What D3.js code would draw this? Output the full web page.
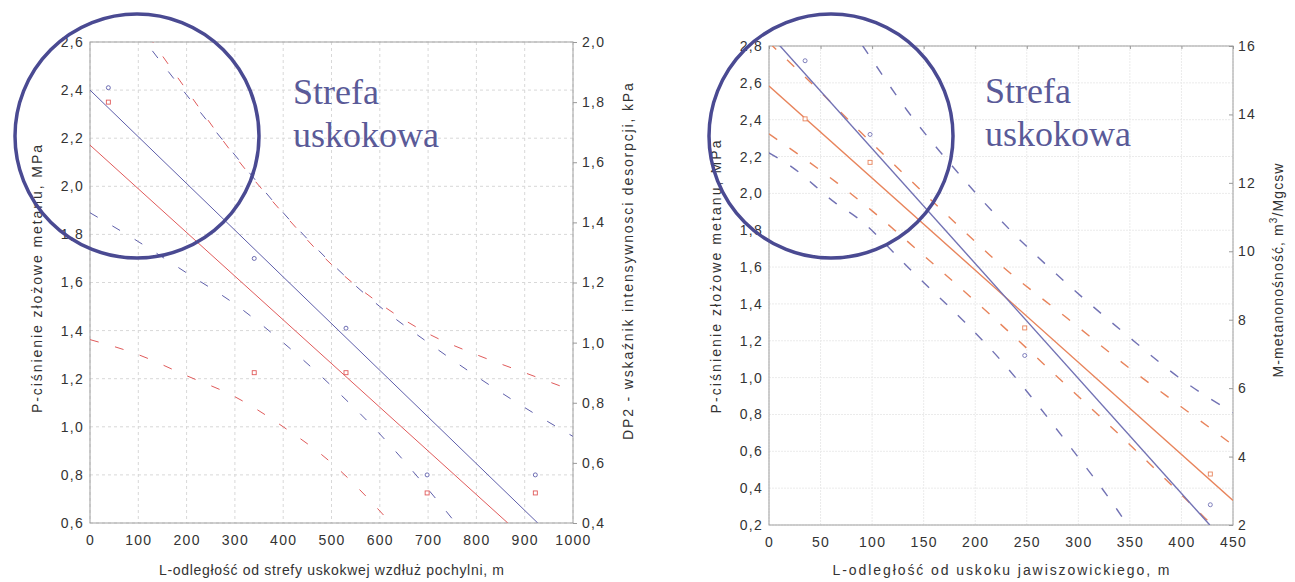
<!DOCTYPE html>
<html>
<head>
<meta charset="utf-8">
<script src="https://cdn.jsdelivr.net/npm/d3@7"></script>
<style>
body { margin: 0; background: #fff; }
text { font-family: "Liberation Sans", Arial, sans-serif; fill: #333; }
</style>
</head>
<body>
<svg id="chart" width="1295" height="582"></svg>
<script>
// ---- left panel data (distance along the incline, m)
const distTicksL = [0, 100, 200, 300, 400, 500, 600, 700, 800, 900, 1000];
const pTicksL = [0.6, 0.8, 1.0, 1.2, 1.4, 1.6, 1.8, 2.0, 2.2, 2.4, 2.6];
const dpTicksL = [0.4, 0.6, 0.8, 1.0, 1.2, 1.4, 1.6, 1.8, 2.0];
const distL = [38, 340, 530, 698, 922];
const pressureL = [2.41, 1.70, 1.41, 0.80, 0.80];
const dp2L = [1.80, 0.90, 0.90, 0.50, 0.50];
const pFitL = [[0, 2.40], [927, 0.60]];
const dpFitL = [[0, 1.657], [865, 0.40]];
const bandDistL = [0, 100, 200, 300, 400, 500, 600, 700, 800, 900, 1000];
const pUpperL = [2.91, 2.64, 2.38, 2.13, 1.89, 1.68, 1.50, 1.35, 1.21, 1.08, 0.96];
const pLowerL = [1.89, 1.77, 1.64, 1.51, 1.35, 1.17, 0.97, 0.74, 0.49, 0.22, -0.04];
const dpUpperL = [2.31, 2.07, 1.84, 1.62, 1.43, 1.26, 1.13, 1.03, 0.96, 0.90, 0.84];
const dpLowerL = [1.01, 0.96, 0.89, 0.82, 0.72, 0.60, 0.44, 0.25, 0.03, -0.20, -0.43];

// ---- right panel data (distance from the Jawiszowice fault, m)
const distTicksR = [0, 50, 100, 150, 200, 250, 300, 350, 400, 450];
const pTicksR = [0.2, 0.4, 0.6, 0.8, 1.0, 1.2, 1.4, 1.6, 1.8, 2.0, 2.2, 2.4, 2.6, 2.8];
const mTicksR = [2, 4, 6, 8, 10, 12, 14, 16];
const distR = [35, 98, 248, 428];
const pressureR = [2.72, 2.32, 1.12, 0.31];
const methaneR = [13.87, 12.6, 7.76, 3.49];
const pFitR = [[0, 2.867], [427.5, 0.20]];
const mFitR = [[0, 14.83], [450, 2.72]];
const pUpperR = [[50, 3.14], [91, 2.80], [134, 2.45], [182, 2.12], [234, 1.80], [289, 1.51], [345, 1.24], [405, 0.97], [450, 0.81]];
const pLowerR = [[0, 2.22], [23, 2.14], [64, 1.95], [85, 1.87], [140, 1.57], [190, 1.30], [227, 1.08], [245, 0.96], [290, 0.64], [338, 0.28], [350, 0.18]];
const mUpperR = [[0, 16.10], [48, 14.71], [90, 13.45], [137, 12.08], [180, 10.85], [227, 9.54], [289, 8.05], [348, 6.62], [400, 5.45], [447, 4.40], [450, 4.33]];
const mLowerR = [[0, 13.43], [66, 12.00], [100, 11.18], [143, 10.06], [214, 8.16], [295, 5.90], [353, 4.26], [423, 2.20], [440, 1.70]];

const svg = d3.select('#chart');
const comma = d => d3.format('.1f')(d).replace('.', ',');
const zip = (xs, ys) => xs.map((x, i) => [x, ys[i]]);

function panel(o) {
	let g = svg.append('g');
	let x = o.x, y = o.y, y2 = o.y2;
	let [x0, x1] = x.range(), [yb, yt] = y.range();

	g.append('clipPath').attr('id', o.id)
		.append('rect').attr('x', x0).attr('y', yt).attr('width', x1 - x0).attr('height', yb - yt);

	// grid
	g.append('g').selectAll('line').data(o.yTicks).enter().append('line')
		.attr('x1', x0).attr('x2', x1).attr('y1', d => y(d)).attr('y2', d => y(d))
		.attr('stroke', o.gridColor).attr('stroke-dasharray', o.gridDash);
	g.append('g').selectAll('line').data(o.xTicks).enter().append('line')
		.attr('y1', yt).attr('y2', yb).attr('x1', d => x(d)).attr('x2', d => x(d))
		.attr('stroke', o.gridColor).attr('stroke-dasharray', o.gridDash);

	g.append('rect').attr('x', x0).attr('y', yt).attr('width', x1 - x0).attr('height', yb - yt)
		.attr('fill', 'none').attr('stroke', '#a0a0a0');

	let plot = g.append('g').attr('clip-path', 'url(#' + o.id + ')');
	let line1 = d3.line().x(d => x(d[0])).y(d => y(d[1])).curve(d3.curveMonotoneX);
	let line2 = d3.line().x(d => x(d[0])).y(d => y2(d[1])).curve(d3.curveMonotoneX);

	o.bands1.forEach(b => plot.append('path').attr('d', line1(b)).attr('fill', 'none')
		.attr('stroke', o.c1).attr('stroke-width', o.dashW).attr('stroke-dasharray', o.dash));
	o.bands2.forEach(b => plot.append('path').attr('d', line2(b)).attr('fill', 'none')
		.attr('stroke', o.c2).attr('stroke-width', o.dashW).attr('stroke-dasharray', o.dash));
	plot.append('path').attr('d', line2(o.fit2)).attr('fill', 'none').attr('stroke', o.c2).attr('stroke-width', o.lineW);
	plot.append('path').attr('d', line1(o.fit1)).attr('fill', 'none').attr('stroke', o.c1).attr('stroke-width', o.lineW);

	plot.selectAll('circle.p').data(zip(o.dist, o.v1)).enter().append('circle')
		.attr('cx', d => x(d[0])).attr('cy', d => y(d[1])).attr('r', 2)
		.attr('fill', '#fff').attr('stroke', o.c1).attr('stroke-width', 0.9);
	plot.selectAll('rect.m').data(zip(o.dist, o.v2)).enter().append('rect')
		.attr('x', d => x(d[0]) - 2).attr('y', d => y2(d[1]) - 2).attr('width', 4).attr('height', 4)
		.attr('fill', '#fff').attr('stroke', o.c2).attr('stroke-width', 0.9);

	// axes
	let ax = g.append('g').attr('transform', 'translate(0,' + yb + ')')
		.call(d3.axisBottom(x).tickValues(o.xTicks).tickSize(0).tickPadding(12).tickFormat(d3.format('d')));
	let ay = g.append('g').attr('transform', 'translate(' + x0 + ',0)')
		.call(d3.axisLeft(y).tickValues(o.yTicks).tickSize(0).tickPadding(6).tickFormat(comma));
	let ay2 = g.append('g').attr('transform', 'translate(' + x1 + ',0)')
		.call(d3.axisRight(y2).tickValues(o.y2Ticks).tickSize(o.rTick).tickSizeOuter(0).tickPadding(5).tickFormat(o.y2Fmt));
	if (o.topTicks) {
		g.append('g').attr('transform', 'translate(0,' + yt + ')')
			.call(d3.axisBottom(x).tickValues(o.xTicks).tickSize(3).tickSizeOuter(0).tickFormat(''))
			.call(a => a.select('.domain').remove())
			.selectAll('line').attr('stroke', '#999');
	}
	[ax, ay, ay2].forEach(a => {
		a.select('.domain').remove();
		a.selectAll('.tick line').attr('stroke', '#999');
		a.selectAll('text').style('font-size', '14px').style('letter-spacing', '1.3px').attr('fill', '#333')
			.style('font-family', '"Liberation Sans", Arial, sans-serif');
	});

	// titles
	g.append('text').attr('x', (x0 + x1) / 2).attr('y', 575).attr('text-anchor', 'middle')
		.attr('textLength', o.xTitleLen).attr('lengthAdjust', 'spacing')
		.style('font-size', '14px').text(o.xTitle);
	g.append('text').attr('transform', 'translate(' + o.yTitlePos[0] + ',' + o.yTitlePos[1] + ') rotate(-90)')
		.attr('text-anchor', 'middle').attr('textLength', o.yTitleLen).attr('lengthAdjust', 'spacing')
		.style('font-size', '14px').text(o.yTitle);
	let t2 = g.append('text').attr('transform', 'translate(' + o.y2TitlePos[0] + ',' + o.y2TitlePos[1] + ') rotate(-90)')
		.attr('text-anchor', 'middle').style('font-size', '14px').style('letter-spacing', o.y2Spacing);
	o.y2Title(t2);

	// fault zone marker
	g.append('circle').attr('cx', o.ring[0]).attr('cy', o.ring[1]).attr('r', o.ring[2])
		.attr('fill', 'none').attr('stroke', '#4a4a92').attr('stroke-width', 3.5);
	let s = g.append('text').attr('x', o.label[0]).attr('y', o.label[1])
		.style('font-family', '"Liberation Serif", "Times New Roman", serif').style('font-size', '36px')
		.attr('fill', '#5a5a98').style('fill', '#5a5a98');
	s.append('tspan').attr('x', o.label[0]).text('Strefa');
	s.append('tspan').attr('x', o.label[0]).attr('dy', 43).text('uskokowa');
}

panel({
	id: 'clipL',
	x: d3.scaleLinear().domain([0, 1000]).range([90, 573]),
	y: d3.scaleLinear().domain([0.6, 2.6]).range([523, 42]),
	y2: d3.scaleLinear().domain([0.4, 2.0]).range([523, 42]),
	xTicks: distTicksL, yTicks: pTicksL, y2Ticks: dpTicksL, y2Fmt: comma, rTick: 4,
	gridColor: '#d8d8d8', gridDash: '3,3', topTicks: false,
	c1: '#5e5eaa', c2: '#e05a5a', lineW: 1, dashW: 1, dash: '9,17',
	dist: distL, v1: pressureL, v2: dp2L, fit1: pFitL, fit2: dpFitL,
	bands1: [zip(bandDistL, pUpperL), zip(bandDistL, pLowerL)],
	bands2: [zip(bandDistL, dpUpperL), zip(bandDistL, dpLowerL)],
	xTitle: 'L-odległość od strefy uskokwej wzdłuż pochylni, m', xTitleLen: 345,
	yTitle: 'P-ciśnienie złożowe metanu, MPa', yTitlePos: [42, 279], yTitleLen: 268,
	y2TitlePos: [633, 261], y2Spacing: '1.2px',
	y2Title: t => t.attr('textLength', 358).attr('lengthAdjust', 'spacing').text('DP2 - wskaźnik intensywnosci desorpcji, kPa'),
	ring: [137, 136, 122], label: [293, 104]
});

panel({
	id: 'clipR',
	x: d3.scaleLinear().domain([0, 450]).range([769, 1233]),
	y: d3.scaleLinear().domain([0.2, 2.8]).range([525, 46]),
	y2: d3.scaleLinear().domain([2, 16]).range([525, 46]),
	xTicks: distTicksR, yTicks: pTicksR, y2Ticks: mTicksR, y2Fmt: d3.format('d'), rTick: -4,
	gridColor: '#ebebeb', gridDash: '2,1', topTicks: true,
	c1: '#7272b4', c2: '#e8845c', lineW: 1.4, dashW: 1.4, dash: '10,15',
	dist: distR, v1: pressureR, v2: methaneR, fit1: pFitR, fit2: mFitR,
	bands1: [pUpperR, pLowerR],
	bands2: [mUpperR, mLowerR],
	xTitle: 'L-odległość od uskoku jawiszowickiego, m', xTitleLen: 337,
	yTitle: 'P-ciśnienie złożowe metanu, MPa', yTitlePos: [721, 277], yTitleLen: 273,
	y2TitlePos: [1283, 270], y2Spacing: '1.1px',
	y2Title: t => {
		t.append('tspan').text('M-metanonośność, m');
		t.append('tspan').attr('dy', -6).style('font-size', '10px').text('3');
		t.append('tspan').attr('dy', 6).text('/Mgcsw');
	},
	ring: [831, 136, 122], label: [985, 103]
});
</script>
</body>
</html>
